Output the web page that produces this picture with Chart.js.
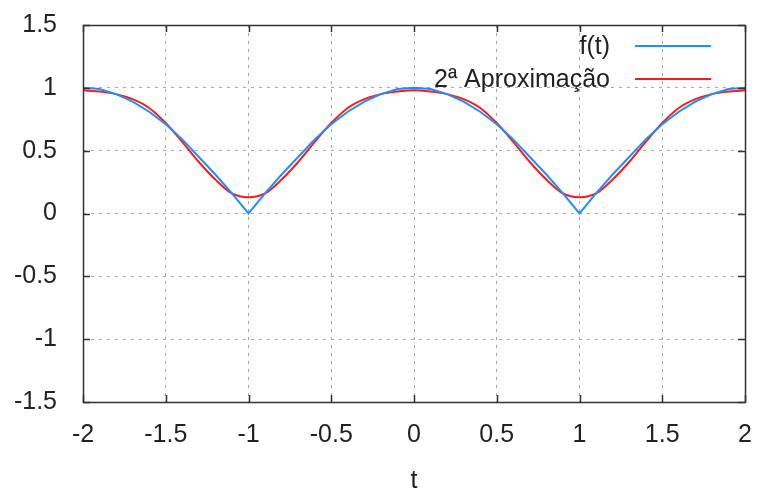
<!DOCTYPE html>
<html>
<head>
<meta charset="utf-8">
<script src="https://cdn.jsdelivr.net/npm/chart.js@4/dist/chart.umd.min.js"></script>
<style>
html,body{margin:0;padding:0;background:#fff;}
#wrap{width:758px;height:494px;}
</style>
</head>
<body>
<div id="wrap"><canvas id="c" width="758" height="494"></canvas></div>
<script>
const tValues = [-2,-1.9,-1.8,-1.7,-1.6,-1.5,-1.4,-1.3,-1.2,-1.1,-1,-0.9,-0.8,-0.7,-0.6,-0.5,-0.4,-0.3,-0.2,-0.1,0,0.1,0.2,0.3,0.4,0.5,0.6,0.7,0.8,0.9,1,1.1,1.2,1.3,1.4,1.5,1.6,1.7,1.8,1.9,2];
const fValues = [1,0.99,0.95,0.89,0.81,0.71,0.59,0.45,0.31,0.16,0,0.16,0.31,0.45,0.59,0.71,0.81,0.89,0.95,0.99,1,0.99,0.95,0.89,0.81,0.71,0.59,0.45,0.31,0.16,0,0.16,0.31,0.45,0.59,0.71,0.81,0.89,0.95,0.99,1];
const approxValues = [0.98,0.97,0.95,0.91,0.84,0.72,0.57,0.41,0.27,0.16,0.13,0.16,0.27,0.41,0.57,0.72,0.84,0.91,0.95,0.97,0.98,0.97,0.95,0.91,0.84,0.72,0.57,0.41,0.27,0.16,0.13,0.16,0.27,0.41,0.57,0.72,0.84,0.91,0.95,0.97,0.98];
const seriesNames = ["f(t)", "2ª Aproximação"];
const xTicks = [-2,-1.5,-1,-0.5,0,0.5,1,1.5,2];
const yTicks = [-1.5,-1,-0.5,0,0.5,1,1.5];
const xTitle = "t";

const FONT = "'Liberation Sans', Arial, sans-serif";
const FS = 25;
const BLUE = "#1f8fff";
const RED = "#ff1a1a";

const frame = {
  id: 'frame',
  afterDraw(chart) {
    const {ctx, chartArea: a, scales} = chart;
    ctx.save();
    ctx.strokeStyle = '#333';
    ctx.lineWidth = 1.5;
    const tl = 7;
    ctx.beginPath();
    xTicks.forEach(v => {
      const x = Math.round(scales.x.getPixelForValue(v)) + 0.5;
      ctx.moveTo(x, a.bottom); ctx.lineTo(x, a.bottom - tl);
      ctx.moveTo(x, a.top); ctx.lineTo(x, a.top + tl);
    });
    yTicks.forEach(v => {
      const y = Math.round(scales.y.getPixelForValue(v)) + 0.5;
      ctx.moveTo(a.left, y); ctx.lineTo(a.left + tl, y);
      ctx.moveTo(a.right, y); ctx.lineTo(a.right - tl, y);
    });
    ctx.stroke();
    ctx.beginPath();
    ctx.rect(Math.round(a.left)+0.5, Math.round(a.top)+0.5, Math.round(a.right-a.left), Math.round(a.bottom-a.top));
    ctx.stroke();
    ctx.font = FS + 'px ' + FONT;
    ctx.textAlign = 'right';
    ctx.textBaseline = 'middle';
    ctx.fillStyle = '#222';
    const colors = [BLUE, RED];
    const textRight = a.right - 135;
    const lineL = a.right - 110, lineR = a.right - 34;
    seriesNames.forEach((n, i) => {
      const y = a.top + 21 + i * 33;
      ctx.fillText(n, textRight, y + 1);
      ctx.strokeStyle = colors[i];
      ctx.lineWidth = 2;
      ctx.beginPath();
      ctx.moveTo(lineL, y); ctx.lineTo(lineR, y);
      ctx.stroke();
    });
    ctx.restore();
  }
};

const mk = (vals) => tValues.map((t, i) => ({x: t, y: vals[i]}));

new Chart(document.getElementById('c'), {
  type: 'line',
  data: {
    datasets: [
      {label: seriesNames[0], data: mk(fValues), borderColor: BLUE, borderWidth: 2, pointRadius: 0, tension: 0, fill: false},
      {label: seriesNames[1], data: mk(approxValues), borderColor: RED, borderWidth: 2, pointRadius: 0, tension: 0.4, cubicInterpolationMode: 'monotone', fill: false}
    ]
  },
  options: {
    responsive: false,
    animation: false,
    layout: {padding: {left: 0, right: 13, top: 25, bottom: 0}},
    plugins: {legend: {display: false}, tooltip: {enabled: false}},
    scales: {
      x: {
        type: 'linear', min: -2, max: 2,
        afterBuildTicks: s => { s.ticks = xTicks.map(v => ({value: v})); },
        afterFit: s => { s.height = 92; s.paddingLeft = 0; s.paddingRight = 0; },
        ticks: {padding: 18, color: '#222', font: {family: FONT, size: FS}, maxRotation: 0, callback: v => String(v)},
        grid: {color: '#a8a8a8', lineWidth: 1, drawTicks: false},
        border: {display: false, dash: [3, 5]},
        title: {display: true, text: xTitle, color: '#222', font: {family: FONT, size: FS}, padding: {top: 0, bottom: -2}}
      },
      y: {
        type: 'linear', min: -1.5, max: 1.5,
        afterBuildTicks: s => { s.ticks = yTicks.map(v => ({value: v})); },
        afterFit: s => { s.width = 83; s.paddingTop = 0; s.paddingBottom = 0; },
        ticks: {padding: 26, color: '#222', font: {family: FONT, size: FS}, callback: v => String(v)},
        grid: {color: '#a8a8a8', lineWidth: 1, drawTicks: false},
        border: {display: false, dash: [3, 5]}
      }
    }
  },
  plugins: [frame]
});
</script>
</body>
</html>
